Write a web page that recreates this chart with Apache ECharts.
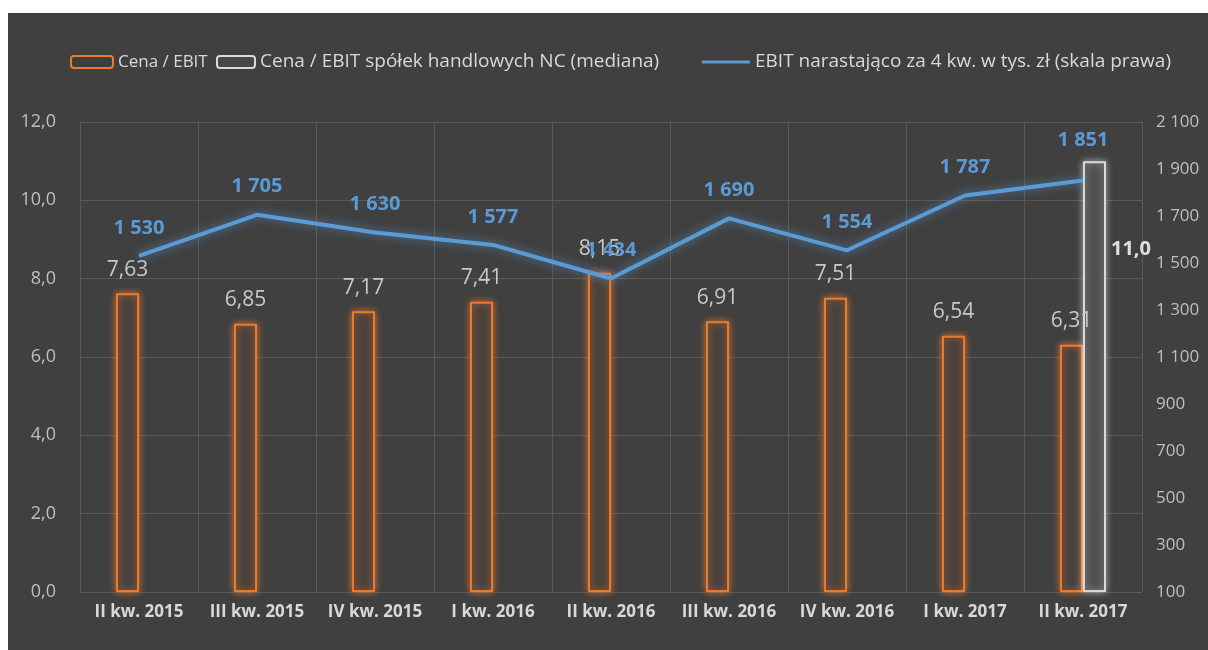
<!DOCTYPE html>
<html>
<head>
<meta charset="utf-8">
<script src="https://cdn.jsdelivr.net/npm/echarts@6/dist/echarts.min.js"></script>
<style>
  html, body { margin: 0; padding: 0; background: #ffffff; }
  #chart { position: absolute; left: 8px; top: 13px; width: 1200px; height: 637px; background: #404040; }
</style>
</head>
<body>
<div id="chart"></div>
<script>
const categories = ['II kw. 2015', 'III kw. 2015', 'IV kw. 2015', 'I kw. 2016', 'II kw. 2016', 'III kw. 2016', 'IV kw. 2016', 'I kw. 2017', 'II kw. 2017'];
const cenaEbit = [7.63, 6.85, 7.17, 7.41, 8.15, 6.91, 7.51, 6.54, 6.31];
const medianaNC = [null, null, null, null, null, null, null, null, 11.0];
const ebit4q = [1530, 1705, 1630, 1577, 1434, 1690, 1554, 1787, 1851];
const leftTicks = [0, 2, 4, 6, 8, 10, 12];
const rightTicks = [100, 300, 500, 700, 900, 1100, 1300, 1500, 1700, 1900, 2100];
const seriesNames = ['Cena / EBIT', 'Cena / EBIT spółek handlowych NC (mediana)', 'EBIT narastająco za 4 kw. w tys. zł (skala prawa)'];

const FONT = '"Open Sans", "Noto Sans", sans-serif';
const fmtDec1 = v => v.toFixed(1).replace('.', ',');
const fmtDec2 = v => v.toFixed(2).replace('.', ',');
const fmtThousands = v => String(Math.round(v)).replace(/\B(?=(\d{3})+(?!\d))/g, ' ');

const legendText = size => ({ color: '#D9D9D9', fontSize: size, lineHeight: 22, fontFamily: FONT });
const legendBase = {
  top: 38,
  padding: 0,
  itemWidth: 42,
  itemHeight: 12,
  itemGap: 14,
  symbolKeepAspect: true,
  textStyle: legendText(19)
};

const lastIdx = ebit4q.length - 1;
const lineData = ebit4q.map((v, i) => (i === lastIdx ? { value: v, label: { distance: 30 } } : v));

const chart = echarts.init(document.getElementById('chart'));
chart.setOption({
  backgroundColor: '#404040',
  textStyle: { fontFamily: FONT },
  legend: [
    Object.assign({}, legendBase, { left: 62, data: [seriesNames[0]], textStyle: legendText(17) }),
    Object.assign({}, legendBase, { left: 208, itemWidth: 38, data: [seriesNames[1]] }),
    Object.assign({}, legendBase, { left: 694, itemWidth: 48, data: [{ name: seriesNames[2], icon: 'path://M0,0 L48,0 L48,3 L0,3 Z' }] })
  ],
  grid: { left: 72, right: 66, top: 109, bottom: 58, containLabel: false },
  xAxis: {
    type: 'category',
    data: categories,
    boundaryGap: true,
    axisLine: { show: false },
    axisTick: { show: false },
    axisLabel: { interval: 0, color: '#D9D9D9', fontSize: 17, fontWeight: 'bold', margin: 12, fontFamily: FONT },
    splitLine: { show: true, interval: 0, lineStyle: { color: '#595959', width: 1 } }
  },
  yAxis: [
    {
      type: 'value',
      min: leftTicks[0],
      max: leftTicks[leftTicks.length - 1],
      interval: leftTicks[1] - leftTicks[0],
      axisLine: { show: false },
      axisTick: { show: false },
      axisLabel: { color: '#BFBFBF', fontSize: 18, margin: 24, formatter: fmtDec1, fontFamily: FONT },
      splitLine: { show: true, lineStyle: { color: '#595959', width: 1 } }
    },
    {
      type: 'value',
      min: rightTicks[0],
      max: rightTicks[rightTicks.length - 1],
      axisLine: { show: false },
      axisTick: { show: false },
      axisLabel: { color: '#BFBFBF', fontSize: 17, margin: 14, formatter: fmtThousands, customValues: rightTicks, fontFamily: FONT },
      splitLine: { show: false }
    }
  ],
  series: [
    {
      name: seriesNames[0],
      type: 'bar',
      yAxisIndex: 0,
      data: cenaEbit,
      barWidth: 23,
      barGap: '0%',
      itemStyle: {
        color: 'rgba(62,62,62,0.92)',
        borderColor: '#EC7A2C',
        borderWidth: 2,
        shadowColor: 'rgba(237,125,49,0.85)',
        shadowBlur: 7
      },
      label: {
        show: true,
        position: 'top',
        distance: 13,
        color: '#C8C8C8',
        fontSize: 21,
        fontFamily: FONT,
        formatter: p => fmtDec2(p.value)
      },
      z: 2
    },
    {
      name: seriesNames[1],
      type: 'bar',
      yAxisIndex: 0,
      data: medianaNC,
      barWidth: 23,
      barGap: '0%',
      itemStyle: {
        color: 'rgba(72,72,72,0.9)',
        borderColor: '#D9D9D9',
        borderWidth: 2,
        shadowColor: 'rgba(255,255,255,0.55)',
        shadowBlur: 7
      },
      label: {
        show: true,
        position: ['100%', 78],
        offset: [5, 0],
        color: '#E0E0E0',
        fontSize: 20,
        fontWeight: 'bold',
        fontFamily: FONT,
        formatter: p => (p.value == null ? '' : fmtDec1(p.value))
      },
      z: 2
    },
    {
      name: seriesNames[2],
      type: 'line',
      yAxisIndex: 1,
      data: lineData,
      symbol: 'circle',
      symbolSize: 0.1,
      showSymbol: true,
      lineStyle: {
        color: '#5B9BD5',
        width: 4,
        shadowColor: 'rgba(91,155,213,0.7)',
        shadowBlur: 10
      },
      itemStyle: { color: '#5B9BD5' },
      label: {
        show: true,
        position: 'top',
        distance: 18,
        color: '#5B9BD5',
        fontSize: 20,
        fontWeight: 'bold',
        fontFamily: FONT,
        formatter: p => fmtThousands(p.value)
      },
      z: 3
    }
  ]
});
</script>
</body>
</html>
